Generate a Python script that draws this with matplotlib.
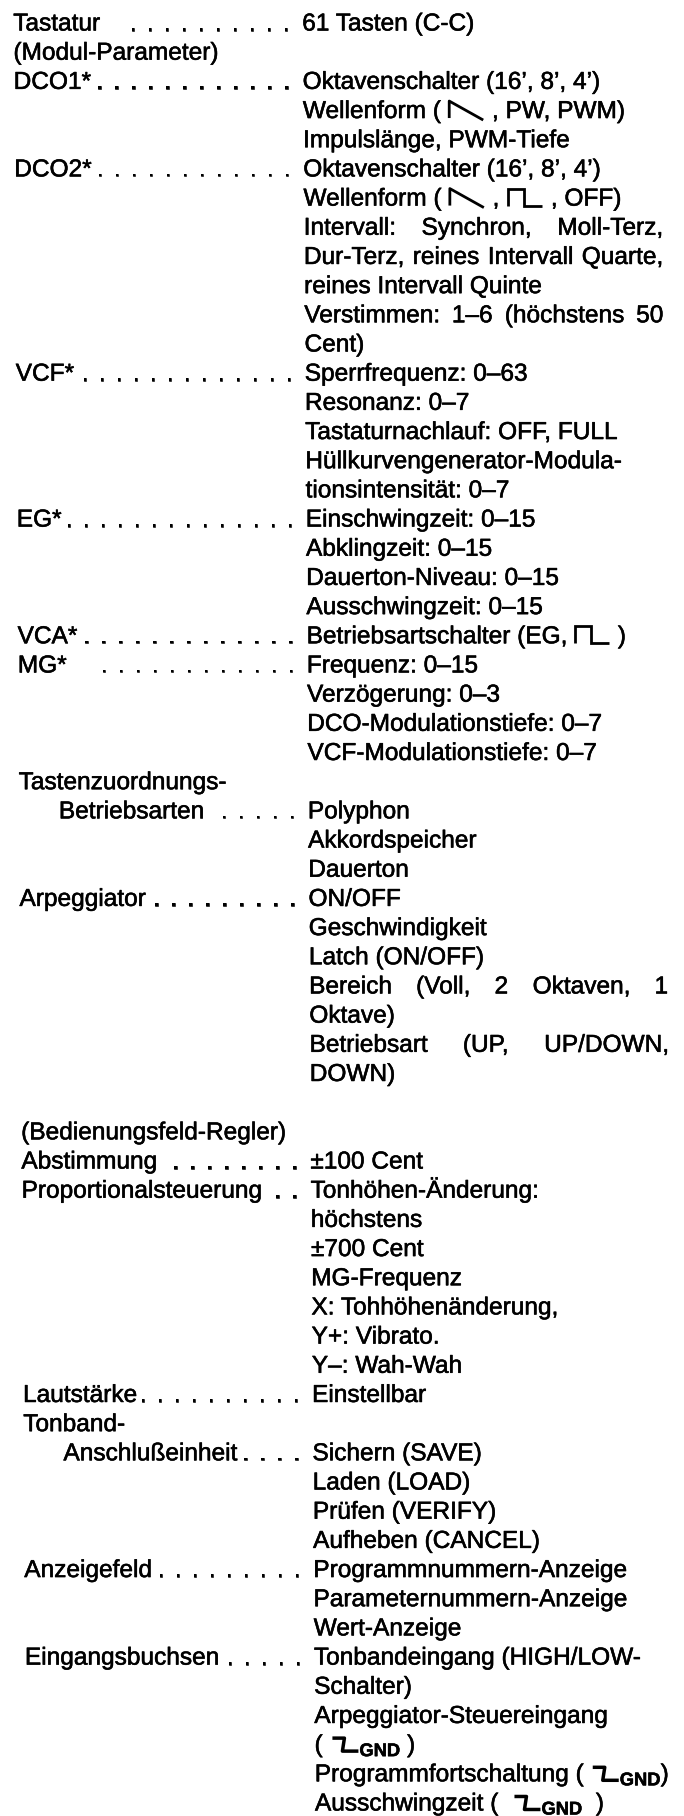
import re
import matplotlib.pyplot as plt
import matplotlib.patheffects as pe

plt.rcParams['font.family'] = ['Liberation Sans', 'DejaVu Sans']

# left column: row number, label, number of leader dots, indented?
left_rows = [0, 1, 2, 5, 12, 17, 21, 22, 26, 27, 30, 38, 39, 40, 47, 48, 49, 53, 56]
left_labels = ['Tastatur', '(Modul-Parameter)', 'DCO1*', 'DCO2*', 'VCF*', 'EG*', 'VCA*', 'MG*',
               'Tastenzuordnungs-', 'Betriebsarten', 'Arpeggiator', '(Bedienungsfeld-Regler)',
               'Abstimmung', 'Proportionalsteuerung', 'Lautstärke', 'Tonband-',
               'Anschlußeinheit', 'Anzeigefeld', 'Eingangsbuchsen']
left_dots = [10, 0, 12, 12, 13, 15, 13, 12, 0, 6, 9, 0, 8, 2, 10, 0, 4, 9, 5]
left_indent = [0, 0, 0, 0, 0, 0, 0, 0, 0, 1, 0, 0, 0, 0, 0, 0, 1, 0, 0]

# right column, one entry per row ({saw}, {sq}, {gnd} = drawn symbols)
right_text = [
    '61 Tasten (C-C)', '',
    'Oktavenschalter (16’, 8’, 4’)',
    'Wellenform ( {saw} , PW, PWM)',
    'Impulslänge, PWM-Tiefe',
    'Oktavenschalter (16’, 8’, 4’)',
    'Wellenform ( {saw} , {sq} , OFF)',
    'Intervall: Synchron, Moll-Terz,',
    'Dur-Terz, reines Intervall Quarte,',
    'reines Intervall Quinte',
    'Verstimmen: 1–6 (höchstens 50',
    'Cent)',
    'Sperrfrequenz: 0–63',
    'Resonanz: 0–7',
    'Tastaturnachlauf: OFF, FULL',
    'Hüllkurvengenerator-Modula-',
    'tionsintensität: 0–7',
    'Einschwingzeit: 0–15',
    'Abklingzeit: 0–15',
    'Dauerton-Niveau: 0–15',
    'Ausschwingzeit: 0–15',
    'Betriebsartschalter (EG, {sq} )',
    'Frequenz: 0–15',
    'Verzögerung: 0–3',
    'DCO-Modulationstiefe: 0–7',
    'VCF-Modulationstiefe: 0–7',
    '',
    'Polyphon',
    'Akkordspeicher',
    'Dauerton',
    'ON/OFF',
    'Geschwindigkeit',
    'Latch (ON/OFF)',
    'Bereich (Voll, 2 Oktaven, 1',
    'Oktave)',
    'Betriebsart (UP, UP/DOWN,',
    'DOWN)',
    '', '',
    '±100 Cent',
    'Tonhöhen-Änderung:',
    'höchstens',
    '±700 Cent',
    'MG-Frequenz',
    'X: Tohhöhenänderung,',
    'Y+: Vibrato.',
    'Y–: Wah-Wah',
    'Einstellbar',
    '',
    'Sichern (SAVE)',
    'Laden (LOAD)',
    'Prüfen (VERIFY)',
    'Aufheben (CANCEL)',
    'Programmnummern-Anzeige',
    'Parameternummern-Anzeige',
    'Wert-Anzeige',
    'Tonbandeingang (HIGH/LOW-',
    'Schalter)',
    'Arpeggiator-Steuereingang',
    '( {gnd} )',
    'Programmfortschaltung ( {gnd})',
    'Ausschwingzeit (  {gnd}  )',
]
justified = [7, 8, 10, 33, 35]

FS = 17.6
W, H = 684, 1816
X_L, X_R, X_END = 13, 302, 661
DOT_END, DOT_SP = 286, 17.0
CAP = 17
LW = 2.0
BOLD = [pe.withStroke(linewidth=0.4, foreground='black')]

fig = plt.figure(figsize=(W / 100, H / 100), dpi=100)
ax = fig.add_axes([0, 0, 1, 1])
ax.set_xlim(0, W)
ax.set_ylim(H, 0)
ax.axis('off')
fig.canvas.draw()
rend = fig.canvas.get_renderer()


def tw(s, size=FS, weight='normal'):
    t = ax.text(0, 0, s, fontsize=size, fontweight=weight)
    w = t.get_window_extent(renderer=rend).width
    t.remove()
    return w


SP = tw('a a') - tw('aa')


def base(i):
    return 30.5 + i * 29.18


def drift(y):
    return 13 * y / H


def put(x, y, s, **kw):
    ax.text(x, y, s, va='baseline', ha='left', fontsize=kw.pop('size', FS), color='black',
            path_effects=BOLD, **kw)


def saw(x, y):
    w = 36
    ax.plot([x + 2, x + 2, x + w], [y, y - CAP, y + 2], color='black', lw=LW, solid_capstyle='butt')
    return w + 2


def sq(x, y):
    w = 36
    ax.plot([x + 2, x + 2, x + w / 2, x + w / 2, x + w], [y, y - CAP, y - CAP, y, y],
            color='black', lw=LW, solid_capstyle='butt', solid_joinstyle='miter')
    return w + 2


def gnd(x, y):
    ax.plot([x + 3, x + 15, x + 13, x + 29], [y - CAP + 3, y - CAP + 3, y - 1, y - 1],
            color='black', lw=LW + 0.5, solid_capstyle='butt')
    put(x + 30, y + 4, 'GND', size=FS * 0.75, fontweight='bold')
    return 30 + tw('GND', FS * 0.75, 'bold')


SYMBOLS = {'{saw}': saw, '{sq}': sq, '{gnd}': gnd}

# left column with dot leaders
for row, label, nd, ind in zip(left_rows, left_labels, left_dots, left_indent):
    y = base(row)
    x0 = X_L + drift(y) + ind * 40
    put(x0, y, label)
    end = x0 + tw(label)
    k = 0
    while k < nd and DOT_END + drift(y) - k * DOT_SP > end + 6:
        ax.text(DOT_END + drift(y) - k * DOT_SP, y, '.', va='baseline', ha='center',
                fontsize=FS, color='black', path_effects=BOLD)
        k += 1

# right column
for row, s in enumerate(right_text):
    if not s:
        continue
    y = base(row)
    x = X_R + drift(y)
    if row in justified:
        words = s.split()
        ws = [tw(w) for w in words]
        gap = (X_END + drift(y) - x - sum(ws)) / (len(words) - 1)
        for w, wd in zip(words, ws):
            put(x, y, w)
            x += wd + gap
        continue
    for tok in re.split(r'(\{\w+\})', s):
        if tok in SYMBOLS:
            x += SYMBOLS[tok](x, y)
            continue
        lead = len(tok) - len(tok.lstrip())
        trail = len(tok) - len(tok.rstrip())
        core = tok.strip()
        x += lead * SP
        if core:
            put(x, y, core)
            x += tw(core)
        x += trail * SP

fig.savefig('out.png', dpi=100, facecolor='white')
